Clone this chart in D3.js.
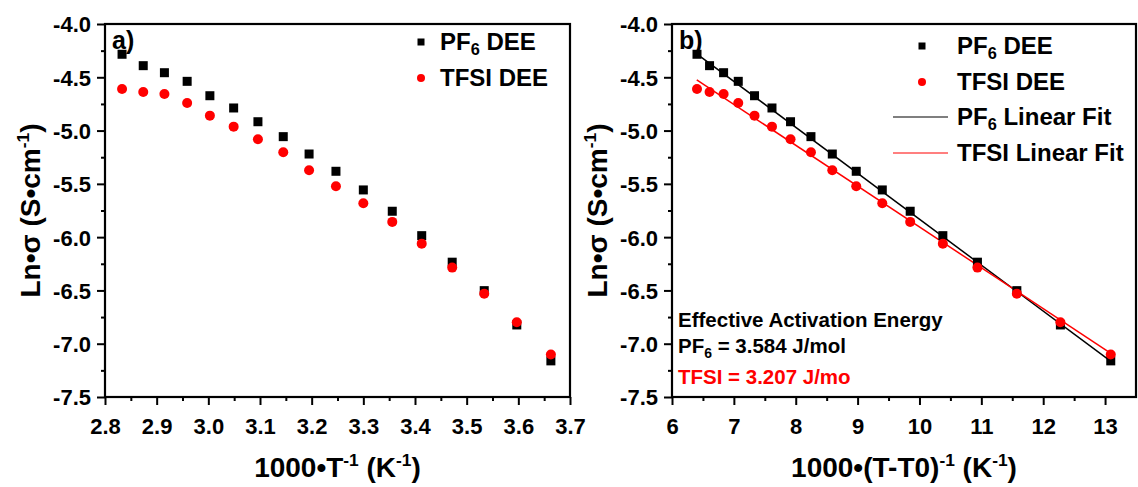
<!DOCTYPE html>
<html><head><meta charset="utf-8">
<script src="https://cdn.jsdelivr.net/npm/d3@7"></script>
<style>
body{margin:0;background:#fff;}
svg{display:block;font-family:"Liberation Sans",Arial,sans-serif;font-weight:bold;}
</style></head>
<body>
<svg id="c" width="1138" height="487"></svg>
<script>
// ---- data ----
const xInvT = [2.833, 2.874, 2.915, 2.959, 3.003, 3.049, 3.096, 3.145, 3.195, 3.247, 3.300, 3.356, 3.413, 3.472, 3.534, 3.597, 3.663];
const xInvTT0 = [6.404, 6.607, 6.834, 7.071, 7.334, 7.616, 7.916, 8.246, 8.591, 8.978, 9.399, 9.850, 10.378, 10.937, 11.574, 12.278, 13.092];
const pf6LnSigma = [-4.284, -4.391, -4.457, -4.538, -4.673, -4.788, -4.917, -5.057, -5.220, -5.382, -5.557, -5.757, -5.986, -6.235, -6.502, -6.824, -7.161];
const tfsiLnSigma = [-4.610, -4.638, -4.657, -4.741, -4.860, -4.963, -5.082, -5.204, -5.372, -5.523, -5.682, -5.857, -6.061, -6.286, -6.530, -6.798, -7.102];
const fitX = [6.40, 13.10];
const pf6FitY = [-4.28, -7.168];
const tfsiFitY = [-4.525, -7.092];
const yTicks = [-4.0, -4.5, -5.0, -5.5, -6.0, -6.5, -7.0, -7.5];
const xTicksLeft = [2.8, 2.9, 3.0, 3.1, 3.2, 3.3, 3.4, 3.5, 3.6, 3.7];
const xTicksRight = [6, 7, 8, 9, 10, 11, 12, 13];
const annotLines = ["Effective Activation Energy", "PF6 = 3.584 J/mol", "TFSI = 3.207 J/mo"];

const svg = d3.select("#c");
const RED = "#ff0000";
const plotTop = 24, plotBottom = 397;
const fmt1 = d => d.toFixed(1);
const fmt0 = d => String(d);

function sub(textSel, main, s, rest){
  textSel.append("tspan").text(main);
  textSel.append("tspan").attr("dy", 5).attr("font-size", "0.68em").text(s);
  textSel.append("tspan").attr("dy", -5).text(rest);
}
function sup(textSel, parts){
  let up = false;
  parts.forEach(([t, s]) => {
    const ts = textSel.append("tspan").text(t);
    if (s && !up){ ts.attr("dy", -11).attr("font-size", "0.62em"); up = true; }
    else if (s && up){ ts.attr("font-size", "0.62em"); }
    else if (!s && up){ ts.attr("dy", 11); up = false; }
  });
}

function panel(opts){
  const g = svg.append("g");
  const x = d3.scaleLinear().domain(opts.xDomain).range([opts.x0, opts.x1]);
  const y = d3.scaleLinear().domain([-7.5, -4.0]).range([plotBottom, plotTop]);

  g.append("g").attr("transform", `translate(0,${plotBottom})`)
    .call(d3.axisBottom(x).tickValues(opts.xMinor).tickSize(4).tickFormat(""))
    .call(a => a.select(".domain").remove())
    .call(a => a.selectAll("line").attr("stroke-width", 2));
  g.append("g").attr("transform", `translate(${opts.x0},0)`)
    .call(d3.axisLeft(y).tickValues(d3.range(-7.25, -4.0, 0.5)).tickSize(4).tickFormat(""))
    .call(a => a.select(".domain").remove())
    .call(a => a.selectAll("line").attr("stroke-width", 2));

  const xa = g.append("g").attr("transform", `translate(0,${plotBottom})`)
    .call(d3.axisBottom(x).tickValues(opts.xTicks).tickSize(8).tickPadding(8).tickFormat(opts.xFmt));
  const ya = g.append("g").attr("transform", `translate(${opts.x0},0)`)
    .call(d3.axisLeft(y).tickValues(yTicks).tickSize(8).tickPadding(6).tickFormat(fmt1));
  [xa, ya].forEach(a => {
    a.select(".domain").remove();
    a.selectAll("line").attr("stroke-width", 2);
    a.selectAll("text").attr("font-size", 22).attr("font-family", '"Liberation Sans",Arial,sans-serif').attr("font-weight", "bold").attr("fill", "#000");
  });
  xa.selectAll("text").attr("dy", "0.95em");
  ya.selectAll("text").attr("dy", "0.36em");

  g.append("rect").attr("x", opts.x0).attr("y", plotTop).attr("width", opts.x1 - opts.x0).attr("height", plotBottom - plotTop)
    .attr("fill", "none").attr("stroke", "#000").attr("stroke-width", 2.2);

  if (opts.fits){
    opts.fits.forEach(f => {
      g.append("line").attr("x1", x(fitX[0])).attr("x2", x(fitX[1]))
        .attr("y1", y(f.ys[0])).attr("y2", y(f.ys[1]))
        .attr("stroke", f.color).attr("stroke-width", 1.5);
    });
  }

  g.append("g").selectAll("rect").data(opts.xs.map((d, i) => [d, pf6LnSigma[i]])).join("rect")
    .attr("x", d => x(d[0]) - 4.5).attr("y", d => y(d[1]) - 4.5).attr("width", 9).attr("height", 9).attr("fill", "#000");
  g.append("g").selectAll("circle").data(opts.xs.map((d, i) => [d, tfsiLnSigma[i]])).join("circle")
    .attr("cx", d => x(d[0])).attr("cy", d => y(d[1])).attr("r", 5).attr("fill", RED);

  g.append("text").attr("x", opts.x0 + 7).attr("y", plotTop + 25).attr("font-size", 25).text(opts.label);

  const xt = g.append("text").attr("x", (opts.x0 + opts.x1) / 2).attr("y", 477).attr("text-anchor", "middle").attr("font-size", 28);
  sup(xt, opts.xTitle);
  const yt = g.append("text").attr("transform", `translate(${opts.x0 - 65},${(plotTop + plotBottom) / 2}) rotate(-90)`)
    .attr("text-anchor", "middle").attr("font-size", 28);
  sup(yt, [["Ln•σ (S•cm", false], ["-1", true], [")", false]]);

  return {x, y, g};
}

const L = panel({
  x0: 105, x1: 570, xDomain: [2.8, 3.7], xTicks: xTicksLeft,
  xMinor: d3.range(2.85, 3.7, 0.1), xFmt: fmt1, label: "a)", xs: xInvT,
  xTitle: [["1000•T", false], ["-1", true], [" (K", false], ["-1", true], [")", false]]
});
const R = panel({
  x0: 672, x1: 1136, xDomain: [6, 13.5], xTicks: xTicksRight,
  xMinor: d3.range(6.5, 13.5, 1), xFmt: fmt0, label: "b)", xs: xInvTT0,
  xTitle: [["1000•(T-T0)", false], ["-1", true], [" (K", false], ["-1", true], [")", false]],
  fits: [{ys: pf6FitY, color: "#000"}, {ys: tfsiFitY, color: RED}]
});

function legend(g, sx, tx, y0, withLines){
  const fs = 24;
  g.append("rect").attr("x", sx - 3.5).attr("y", y0 - 3.5).attr("width", 7).attr("height", 7).attr("fill", "#000");
  sub(g.append("text").attr("x", tx).attr("y", y0 + 8).attr("font-size", fs), "PF", "6", " DEE");
  g.append("circle").attr("cx", sx).attr("cy", y0 + 36).attr("r", 4).attr("fill", RED);
  g.append("text").attr("x", tx).attr("y", y0 + 44).attr("font-size", fs).text("TFSI DEE");
  if (withLines){
    g.append("line").attr("x1", 893).attr("x2", 948).attr("y1", y0 + 71).attr("y2", y0 + 71).attr("stroke", "#000").attr("stroke-width", 1.2);
    sub(g.append("text").attr("x", tx).attr("y", y0 + 79).attr("font-size", fs), "PF", "6", " Linear Fit");
    g.append("line").attr("x1", 893).attr("x2", 948).attr("y1", y0 + 107).attr("y2", y0 + 107).attr("stroke", RED).attr("stroke-width", 1.2);
    g.append("text").attr("x", tx).attr("y", y0 + 115).attr("font-size", fs).text("TFSI Linear Fit");
  }
}
legend(L.g, 421, 440, 42, false);
legend(R.g, 922, 957, 46, true);

const ag = R.g.append("g").attr("font-size", 20.5);
ag.append("text").attr("x", 678).attr("y", 327).text(annotLines[0]);
sub(ag.append("text").attr("x", 678).attr("y", 353), "PF", "6", " = 3.584 J/mol");
ag.append("text").attr("x", 678).attr("y", 384).attr("fill", RED).text(annotLines[2]);
</script>
</body></html>
